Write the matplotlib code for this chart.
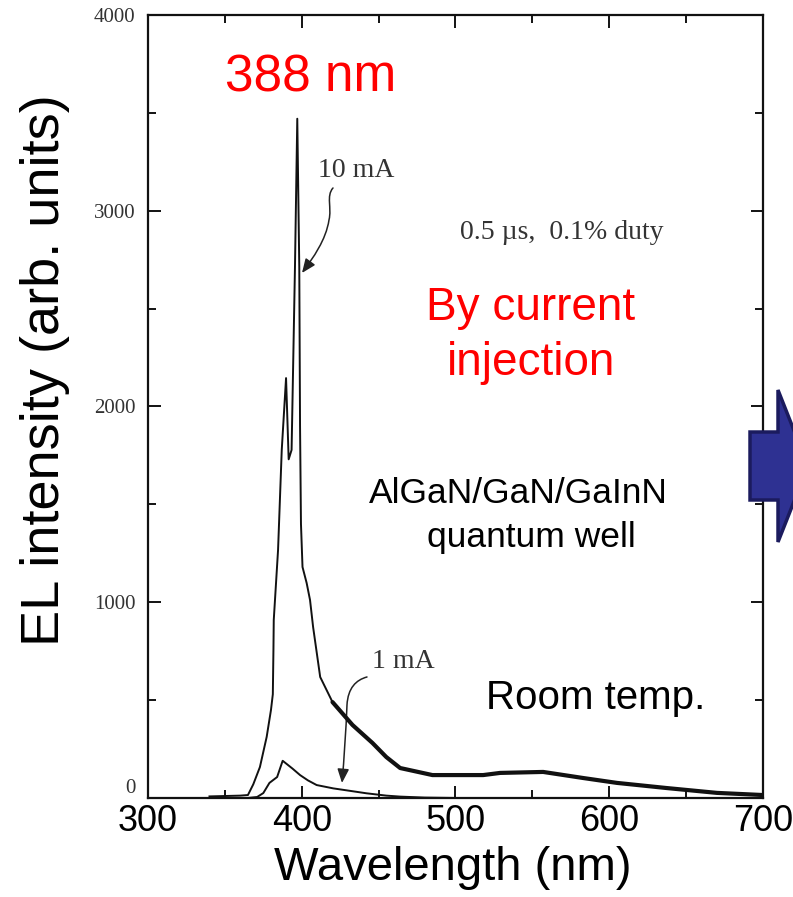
import numpy as np
import matplotlib
matplotlib.use("Agg")
import matplotlib.pyplot as plt
from matplotlib.path import Path
from matplotlib.patches import FancyArrowPatch, Polygon

# EL spectra of AlGaN/GaN/GaInN QW laser
wl_10mA = [340, 350, 360, 365, 368.5, 372.8, 377.2, 380, 381.2, 381.6, 381.8,
           384.6, 387, 389.8, 391.5, 393.4, 395.6, 397.1, 398.4, 398.9, 399.5,
           400.5, 403.2, 405.4, 407.4, 412, 420, 433, 446, 455, 464, 485, 518,
           529, 557, 583, 605, 637, 670, 700]
el_10mA = [8, 10, 12, 15, 70, 158, 312, 450, 530, 760, 909,
           1267, 1778, 2145, 1730, 1778, 2713, 3470, 2713, 1900, 1400,
           1180, 1098, 1011, 873, 618, 490, 373, 281, 209, 153, 117, 117,
           128, 133, 102, 77, 51, 26, 15]

wl_1mA = [365, 371, 375, 379, 384, 387.6, 390, 394, 398.9, 404, 409.7, 420.5,
          430, 442, 455, 464, 480, 500, 700]
el_1mA = [0, 5, 25, 77, 107, 190, 175, 150, 117, 90, 66, 49,
          38, 24, 12, 7, 2, 0, 0]

x_ticks = [300, 400, 500, 600, 700]
y_ticks = [0, 1000, 2000, 3000, 4000]

SANS = "Liberation Sans"
SERIF = "Liberation Serif"

fig = plt.figure(figsize=(7.93, 8.97), dpi=100)
ax = fig.add_axes([0.1866, 0.1104, 0.7756, 0.8729])

ax.plot(wl_10mA, el_10mA, color="#111111", lw=1.4)
# noisy tail looks like a thick band in the scan
tail = [i for i, w in enumerate(wl_10mA) if w >= 420]
ax.plot([wl_10mA[i] for i in tail], [el_10mA[i] for i in tail],
        color="#111111", lw=3.0, solid_capstyle="round")
ax.plot(wl_1mA, el_1mA, color="#111111", lw=1.4)

ax.set_xlim(300, 700)
ax.set_ylim(0, 4000)
ax.set_xticks(x_ticks)
ax.set_xticks(np.arange(300, 701, 50), minor=True)
ax.set_yticks(y_ticks)
ax.set_yticks(np.arange(0, 4001, 500), minor=True)
ax.set_xticklabels([str(t) for t in x_ticks], fontsize=26, family=SANS)
ylabs = ax.set_yticklabels([str(t) for t in y_ticks], fontsize=15,
                           family=SERIF, color="#333333")
ylabs[0].set_va("bottom")   # the "0" sits just above the axis in the scan
ax.tick_params(which="both", direction="in", top=True, right=True, width=1.3)
ax.tick_params(which="major", length=9)
ax.tick_params(which="minor", length=6)
ax.tick_params(axis="x", pad=4)
ax.tick_params(axis="y", pad=9)
for s in ax.spines.values():
    s.set_linewidth(1.6)
    s.set_color("#111111")

# axis titles
fig.text(45 / 793, 1 - 370 / 897, "EL intensity (arb. units)", rotation=90,
         ha="center", va="center", fontsize=39, family=SANS)
fig.text(453 / 793, 1 - 880 / 897, "Wavelength (nm)", ha="center",
         va="baseline", fontsize=34, family=SANS)

# slide annotations
ax.text(350.1, 3607, "388 nm", color="red", fontsize=37, family=SANS,
        ha="left", va="baseline")
ax.text(549.1, 2442, "By current", color="red", fontsize=33, family=SANS,
        ha="center", va="baseline")
ax.text(549.1, 2161, "injection", color="red", fontsize=33, family=SANS,
        ha="center", va="baseline")
ax.text(540.7, 1507, "AlGaN/GaN/GaInN", fontsize=25.5, family=SANS,
        ha="center", va="baseline")
ax.text(549.1, 1282, "quantum well", fontsize=25.5, family=SANS,
        ha="center", va="baseline")
ax.text(519.8, 455, "Room temp.", fontsize=29, family=SANS,
        ha="left", va="baseline")

# original figure labels
ax.text(410.6, 3208, "10 mA", fontsize=20, family=SERIF, color="#333333",
        ha="left", va="center")
ax.text(445.7, 695, "1 mA", fontsize=20, family=SERIF, color="#333333",
        ha="left", va="center")
ax.text(502.9, 2891, "0.5 \u00b5s,  0.1% duty", fontsize=20, family=SERIF,
        color="#333333", ha="left", va="center")

C4 = Path.CURVE4
p10 = Path([(420.33, 3116.2), (415.77, 3075.3), (419.67, 3014.0), (417.72, 2952.7),
            (415.77, 2850.6), (407.32, 2758.6), (400.16, 2682.0)],
           [Path.MOVETO, C4, C4, C4, C4, C4, C4])
p1 = Path([(442.44, 618.1), (435.28, 602.8), (430.08, 561.9), (429.43, 475.1),
           (428.78, 347.4), (427.48, 194.1), (426.18, 76.6)],
          [Path.MOVETO, C4, C4, C4, C4, C4, C4])
for p in (p10, p1):
    ax.add_patch(FancyArrowPatch(path=p, transform=ax.transData,
                                 arrowstyle="-|>,head_length=0.6,head_width=0.25",
                                 mutation_scale=14, lw=1.1, color="#222222"))

# block arrow at the right edge (cut off by the slide)
arrow_px = [(750, 432), (778, 432), (778, 390), (808, 466), (778, 542),
            (778, 500), (750, 500)]
fig.patches.append(Polygon([(x / 793, 1 - y / 897) for x, y in arrow_px],
                           closed=True, transform=fig.transFigure,
                           facecolor="#2E3192", edgecolor="#1B1B5E", lw=2.5))

fig.savefig("out.png", dpi=100)
